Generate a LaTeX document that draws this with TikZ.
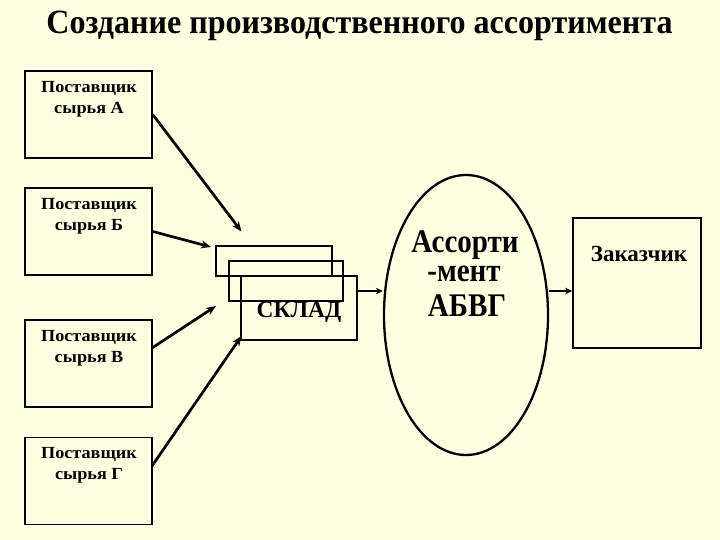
\documentclass[tikz,border=0pt]{standalone}
\usepackage{fontspec}
\setmainfont{Liberation Serif}
\usetikzlibrary{arrows.meta,shapes.geometric}
\definecolor{bg}{RGB}{255,255,225}
\begin{document}
\begin{tikzpicture}[x=1pt,y=-1pt,
  box/.style={draw=black,line width=1.5pt,rectangle,minimum width=127pt,minimum height=87pt,inner sep=0pt},
  boxtxt/.style={font=\fontsize{17}{21.6}\selectfont\bfseries,align=center,anchor=north,inner sep=0pt,xscale=1.07},
  etxt/.style={font=\fontsize{33}{33}\selectfont\bfseries,anchor=base,inner sep=0pt,xscale=0.88,text height=22pt,text depth=6pt},
  feed/.style={line width=2.7pt,-{Stealth[length=10pt,width=8pt]}},
  thin/.style={line width=1.9pt,-{Stealth[length=7pt,width=6.5pt]}},
  skl/.style={draw=black,line width=1.3pt}]
\fill[bg] (0,0) rectangle (720,540);
\useasboundingbox (0,0) rectangle (720,540);
\node[font=\fontsize{34}{36}\selectfont\bfseries,anchor=base,xscale=0.943] (title) at (359.5,34) {Создание производственного ассортимента};
% suppliers
\node[box] (A) at (88.5,114.5) {};
\node[box] (B) at (88.5,231.5) {};
\node[box] (V) at (88.5,363.5) {};
\node[box] (G) at (88.5,481) {};
\node[boxtxt] (tA) at (89,81) {Поставщик\\сырья А};
\node[boxtxt] (tB) at (89,198) {Поставщик\\сырья Б};
\node[boxtxt] (tV) at (89,330) {Поставщик\\сырья В};
\node[boxtxt] (tG) at (89,447) {Поставщик\\сырья Г};
% warehouse
\node[skl,minimum width=116pt,minimum height=30pt,inner sep=0pt] (s1) at (274,261) {};
\node[skl,minimum width=114pt,minimum height=40pt,inner sep=0pt] (s2) at (286,281) {};
\node[skl,minimum width=116pt,minimum height=64pt,inner sep=0pt] (s3) at (299,308) {};
\node[font=\fontsize{23.5}{26}\selectfont\bfseries,anchor=base] (sklad) at (299,317) {СКЛАД};
% assortment
\node[draw=black,line width=2.3pt,ellipse,minimum width=164pt,minimum height=280pt,inner sep=0pt] (E) at (466,315) {};
\node[etxt] (E1) at (465,252) {Ассорти};
\node[etxt,text height=17pt,text depth=1pt] (E2) at (464,281) {-мент};
\node[etxt,text depth=1pt] (E3) at (467,316.5) {АБВГ};
% customer
\node[draw=black,line width=1.7pt,minimum width=128pt,minimum height=130pt,inner sep=0pt] (Z) at (637,283) {};
\node[font=\fontsize{23}{26}\selectfont\bfseries,anchor=base] (Zt) at (639,261) {Заказчик};
% coordinates
\coordinate (eA) at (241.5,231.5);
\coordinate (eB) at (211,247);
\coordinate (eV) at (216,306);
\coordinate (eG) at (241.5,336);
\draw[feed] (A.east) -- (eA);
\draw[feed] (B.east) -- (eB);
\draw[feed] (152,348) -- (eV);
\draw[feed] (152,466) -- (eG);
\draw[thin] (s3.east |- 0,291) -- (E.west |- 0,291);
\draw[thin] (E.east |- 0,291) -- (Z.west |- 0,291);
\end{tikzpicture}
\end{document}
